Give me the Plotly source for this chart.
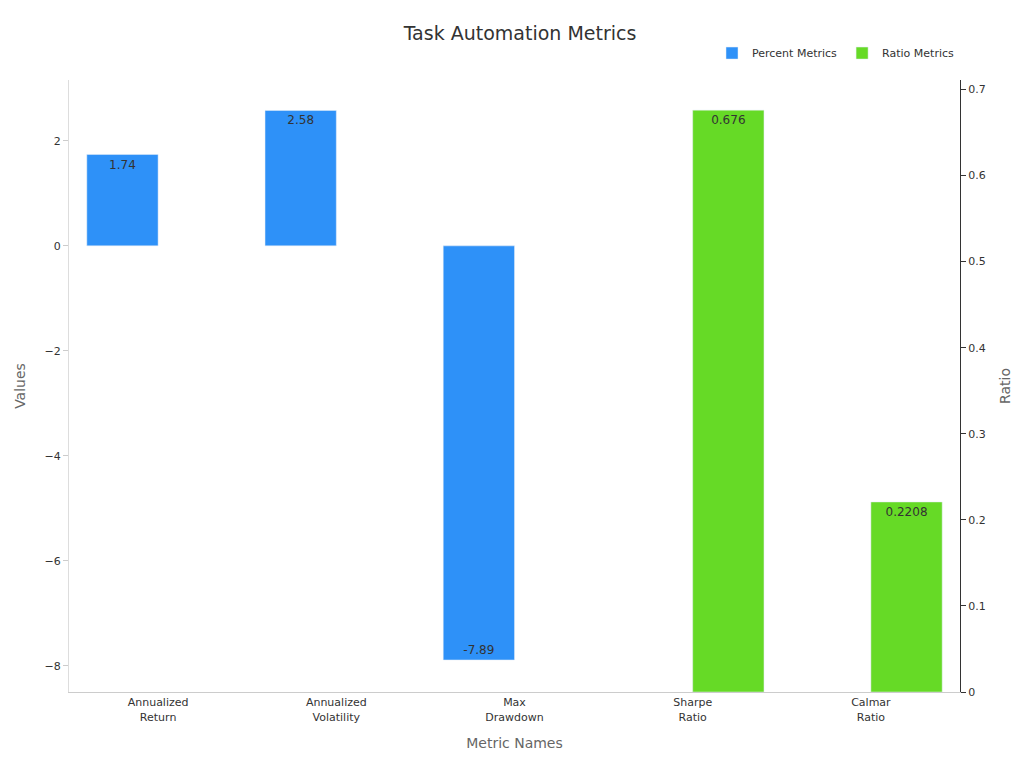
import plotly.graph_objects as go

categories = ["Annualized<br>Return", "Annualized<br>Volatility", "Max<br>Drawdown", "Sharpe<br>Ratio", "Calmar<br>Ratio"]
percent_values = [1.74, 2.58, -7.89, None, None]
ratio_values = [None, None, None, 0.676, 0.2208]
percent_text = ["1.74", "2.58", "-7.89", "", ""]
ratio_text = ["", "", "", "0.676", "0.2208"]

fig = go.Figure()
fig.add_trace(go.Bar(x=categories, y=percent_values, name="Percent Metrics", marker_color="#2E91F8",
                     text=percent_text, textposition="inside", insidetextanchor="end",
                     textfont=dict(color="#333", size=12), offsetgroup="1", yaxis="y"))
fig.add_trace(go.Bar(x=categories, y=ratio_values, name="Ratio Metrics", marker_color="#66DA26",
                     text=ratio_text, textposition="inside", insidetextanchor="end",
                     textfont=dict(color="#333", size=12), offsetgroup="2", yaxis="y2"))

fig.update_layout(
    width=1024, height=768, barmode="group", bargap=0.2,
    paper_bgcolor="white", plot_bgcolor="white",
    font=dict(family="DejaVu Sans", size=11, color="#333"),
    title=dict(text="Task Automation Metrics", x=0.5, y=0.967, yanchor="middle", xanchor="center",
               font=dict(size=19)),
    margin=dict(l=54, r=72, t=72, b=84),
    legend=dict(orientation="h", x=1.0, xanchor="right", y=1.044, yanchor="middle", font=dict(size=11)),
    xaxis=dict(title=dict(text="Metric Names", font=dict(color="#666", size=14)), showline=True,
               linecolor="#ccc", tickfont=dict(size=11)),
    yaxis=dict(title=dict(text="Values", font=dict(color="#666", size=14)), range=[-8.5, 3.16],
               showgrid=False, zeroline=False, showline=True, linecolor="#ddd",
               ticks="outside", ticklen=5, tickcolor="#ccc", dtick=2),
    yaxis2=dict(title=dict(text="Ratio", font=dict(color="#666", size=14)), overlaying="y", side="right",
                range=[0, 0.711], showgrid=False, zeroline=False, showline=True, linecolor="#333",
                ticks="outside", ticklen=5, tickcolor="#333", dtick=0.1),
)
fig.write_html("out.html")
